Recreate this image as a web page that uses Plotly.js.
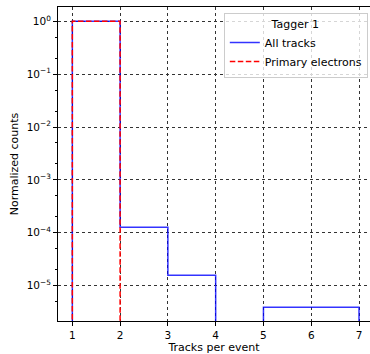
<!DOCTYPE html>
<html>
<head>
<meta charset="utf-8">
<script src="https://cdn.plot.ly/plotly-3.0.1.min.js"></script>
<style>html,body{margin:0;padding:0;overflow:hidden;background:#fff}#chart{width:370px;height:354px}</style>
</head>
<body>
<div id="chart"></div>
<script>
// Data
const binEdges = [1, 2, 3, 4, 5, 6, 7];
const allTracks = [1.0, 1.27e-4, 1.57e-5, 0, 3.9e-6, 3.9e-6];
const primaryElectrons = [1.0, 0, 0, 0, 0, 0];
const yTickVals = [1, 0.1, 0.01, 0.001, 0.0001, 0.00001];
const yTickText = ['10<sup>0</sup>', '10<sup>−1</sup>', '10<sup>−2</sup>', '10<sup>−3</sup>', '10<sup>−4</sup>', '10<sup>−5</sup>'];
const xTickVals = [1, 2, 3, 4, 5, 6, 7];

const FLOOR = 1e-12; // zero counts drop below the log axis
function stepPath(edges, vals) {
  const xs = [edges[0]], ys = [FLOOR];
  for (let i = 0; i < vals.length; i++) {
    const v = vals[i] > 0 ? vals[i] : FLOOR;
    xs.push(edges[i], edges[i + 1]);
    ys.push(v, v);
  }
  xs.push(edges[edges.length - 1]);
  ys.push(FLOOR);
  return {x: xs, y: ys};
}

const a = stepPath(binEdges, allTracks);
const p = stepPath(binEdges, primaryElectrons);
const font = {family: 'DejaVu Sans, sans-serif', size: 11, color: '#000'};
const legendFont = {family: 'DejaVu Sans, sans-serif', size: 11, color: '#000'};
const tickFont = {family: 'DejaVu Sans, sans-serif', size: 10.5, color: '#000'};

const traces = [
  {x: a.x, y: a.y, mode: 'lines', name: 'All tracks',
   line: {color: 'rgba(0,0,255,0.8)', width: 1.5}},
  {x: p.x, y: p.y, mode: 'lines', name: 'Primary electrons',
   line: {color: '#ff0000', width: 1.5, dash: '5.5px,2.5px'}}
];

const layout = {
  width: 370, height: 354,
  margin: {l: 58, r: 0, t: 7, b: 33},
  paper_bgcolor: '#fff', plot_bgcolor: '#fff',
  font: font,
  showlegend: true,
  xaxis: {
    range: [0.7, 7.23], tickmode: 'array', tickvals: xTickVals,
    ticks: 'outside', ticklen: 4, tickcolor: '#000',
    showline: true, linecolor: '#000', linewidth: 1, mirror: true,
    showgrid: true, gridcolor: '#333', griddash: 'dot', gridwidth: 1,
    zeroline: false,
    title: {text: 'Tracks per event', font: font, standoff: 3},
    tickfont: tickFont
  },
  yaxis: {
    type: 'log', range: [-5.67, 0.27],
    tickmode: 'array', tickvals: yTickVals, ticktext: yTickText,
    ticks: 'outside', ticklen: 4, tickcolor: '#000',
    minor: {ticks: 'outside', ticklen: 2, tickcolor: '#000', showgrid: false},
    showline: true, linecolor: '#000', linewidth: 1,
    showgrid: true, gridcolor: '#333', griddash: 'dot', gridwidth: 1,
    zeroline: false,
    title: {text: 'Normalized counts', font: font, standoff: 5},
    tickfont: tickFont
  },
  legend: {
    x: 0.993, xanchor: 'right', y: 0.982, yanchor: 'top',
    bgcolor: 'rgba(255,255,255,0.8)', bordercolor: '#ccc', borderwidth: 1,
    font: legendFont, itemwidth: 30, tracegroupgap: 0,
    title: {text: 'Tagger 1', font: legendFont, side: 'top center'}
  }
};

Plotly.newPlot('chart', traces, layout, {displayModeBar: false, staticPlot: true});
</script>
</body>
</html>
